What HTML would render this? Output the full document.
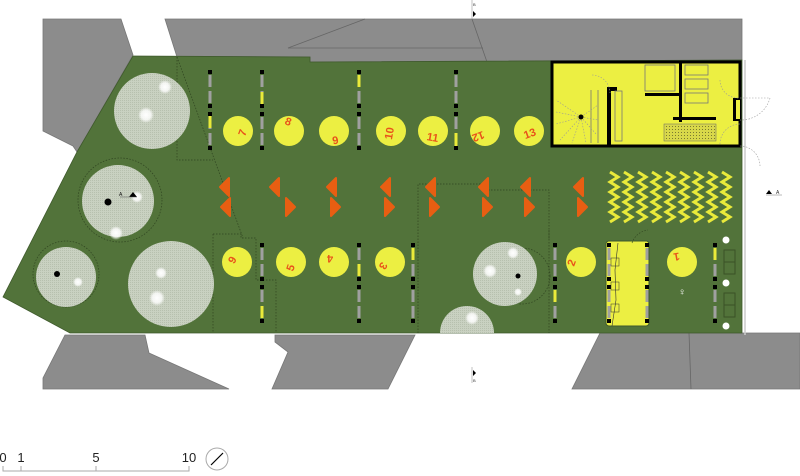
<!DOCTYPE html>
<html><head><meta charset="utf-8"><style>
html,body{margin:0;padding:0;background:#fff;}
svg{display:block;}
text{font-family:"Liberation Sans",sans-serif;}
</style></head><body>
<svg width="800" height="476" viewBox="0 0 800 476" xmlns="http://www.w3.org/2000/svg">
<defs>
<pattern id="dots" width="2" height="2" patternUnits="userSpaceOnUse"><rect width="2" height="2" fill="#c9d1c1"/><rect width="1" height="1" fill="#b7c0ae"/></pattern>
<radialGradient id="glow"><stop offset="0" stop-color="#fff"/><stop offset="0.6" stop-color="#fff" stop-opacity="0.8"/><stop offset="1" stop-color="#fff" stop-opacity="0"/></radialGradient>
<pattern id="hatch" width="3" height="3" patternUnits="userSpaceOnUse"><rect width="3" height="3" fill="#d8d84a"/><rect width="1" height="1" fill="#7a7a30"/></pattern>
<g id="col">
<rect x="0" y="0" width="4" height="4" fill="#000"/>
<rect x="0.5" y="5" width="3" height="12" fill="#a0a0a0"/>
<rect x="0.5" y="21" width="3" height="12" fill="#a0a0a0"/>
<rect x="0" y="34" width="4" height="4" fill="#000"/>
<rect x="0" y="42" width="4" height="4" fill="#000"/>
<rect x="0.5" y="47" width="3" height="12" fill="#a0a0a0"/>
<rect x="0.5" y="63" width="3" height="12" fill="#a0a0a0"/>
<rect x="0" y="76" width="4" height="4" fill="#000"/>
</g>
<g id="tl"><path d="M0,-9 L-9,0 L0,9 Z" fill="#e85e12" stroke="#e85e12" stroke-width="2" stroke-linejoin="round"/></g>
<g id="tr"><path d="M0,-9 L9,0 L0,9 Z" fill="#e85e12" stroke="#e85e12" stroke-width="2" stroke-linejoin="round"/></g>
</defs>

<!-- gray buildings -->
<g fill="#8c8c8c" stroke="#777" stroke-width="0.8">
<polygon points="43,19 121,19 133,55 77,152 73,146 43,131"/>
<polygon points="165,19 742,19 742,60 487,62 310,62 310,57 177,57"/>
<polygon points="65,335 145,335 149,353 229,389 43,389 43,378"/>
<polygon points="275,335 415,335 388,389 272,389 288,352 275,342"/>
<polygon points="600,333 800,333 800,389 572,389"/>
</g>
<line x1="288" y1="48" x2="365" y2="19" stroke="#666" stroke-width="0.8"/>
<line x1="288" y1="48" x2="483" y2="48" stroke="#666" stroke-width="0.8"/>
<line x1="472" y1="19" x2="487" y2="62" stroke="#666" stroke-width="0.8"/>
<line x1="689" y1="333" x2="691" y2="389" stroke="#666" stroke-width="0.8"/>

<!-- green ground -->
<polygon points="133,56 310,57 310,62 742,60 742,333 70,333 3,297 77,152" fill="#52733a" stroke="#3f5a2c" stroke-width="0.8"/>
<line x1="745" y1="60" x2="745" y2="335" stroke="#ccc" stroke-width="1.5"/>

<!-- dotted lines -->
<g fill="none" stroke="#2f4420" stroke-width="0.7" stroke-dasharray="1.5,1.5">
<polyline points="177,57 177,160 213,160"/>
<line x1="177" y1="57" x2="243" y2="238"/>
<polyline points="213,234 241,234 241,238 256,238 256,280 276,280 276,333"/>
<line x1="213" y1="234" x2="213" y2="333"/>
<polyline points="418,333 418,184 487,184 487,190 549,190 549,240"/>
<line x1="549" y1="230" x2="549" y2="333"/>
<circle cx="120" cy="200" r="42"/>
<circle cx="66" cy="274" r="33"/>
<circle cx="522" cy="276" r="28"/>
</g>

<!-- trees -->
<g fill="url(#dots)">
<circle cx="152" cy="111" r="38"/>
<circle cx="118" cy="201" r="36"/>
<circle cx="66" cy="277" r="30"/>
<circle cx="171" cy="284" r="43"/>
<circle cx="505" cy="274" r="32"/>
<path d="M440,333 A27,27 0 1 1 494,333 Z"/>
</g>
<g fill="url(#glow)">
<circle cx="165" cy="87" r="7"/><circle cx="146" cy="115" r="8"/>
<circle cx="137" cy="197" r="6"/><circle cx="116" cy="233" r="7"/>
<circle cx="78" cy="282" r="5"/>
<circle cx="161" cy="273" r="6"/><circle cx="157" cy="298" r="8"/>
<circle cx="513" cy="253" r="6"/><circle cx="490" cy="271" r="7"/><circle cx="518" cy="292" r="4"/>
<circle cx="472" cy="318" r="7"/>
</g>
<g fill="#000"><circle cx="108" cy="202" r="3.5"/><circle cx="57" cy="274" r="3"/><circle cx="518" cy="276" r="2.5"/></g>
<text x="119" y="196" font-size="5" fill="#111">A</text>
<polygon points="129,197 133,192 137,197" fill="#000"/>
<line x1="120" y1="197" x2="137" y2="197" stroke="#555" stroke-width="0.5"/>

<!-- columns -->
<use href="#col" x="208" y="70"/><use href="#col" x="260" y="70"/><use href="#col" x="357" y="70"/><use href="#col" x="454" y="70"/>
<use href="#col" x="260" y="243"/><use href="#col" x="357" y="243"/><use href="#col" x="411" y="243"/><use href="#col" x="553" y="243"/><use href="#col" x="713" y="243"/>
<g fill="#eaea3a">
<rect x="208.5" y="116" width="3" height="12"/><rect x="260.5" y="92" width="3" height="12"/><rect x="357.5" y="75" width="3" height="12"/><rect x="454.5" y="133" width="3" height="13"/>
<rect x="260.5" y="306" width="3" height="12"/><rect x="357.5" y="264" width="3" height="12"/><rect x="411.5" y="248" width="3" height="12"/><rect x="553.5" y="290" width="3" height="12"/><rect x="713.5" y="248" width="3" height="12"/>
</g>

<!-- yellow circles -->
<g fill="#ecef42">
<circle cx="238" cy="131" r="15"/><circle cx="289" cy="131" r="15"/><circle cx="334" cy="131" r="15"/><circle cx="391" cy="131" r="15"/><circle cx="433" cy="131" r="15"/><circle cx="485" cy="131" r="15"/><circle cx="529" cy="131" r="15"/>
<circle cx="237" cy="262" r="15"/><circle cx="291" cy="262" r="15"/><circle cx="334" cy="262" r="15"/><circle cx="390" cy="262" r="15"/><circle cx="581" cy="262" r="15"/><circle cx="682" cy="262" r="15"/>
</g>
<g fill="#e8531a" font-size="11" font-weight="bold" text-anchor="middle">
<text transform="translate(246,134) rotate(-70)">7</text>
<text transform="translate(287,125) rotate(20)">8</text>
<text transform="translate(336,144) rotate(-10)">9</text>
<text transform="translate(393,134) rotate(-80)">10</text>
<text transform="translate(432,141) rotate(10)">11</text>
<text transform="translate(477,133) rotate(160)">12</text>
<text transform="translate(531,137) rotate(-20)">13</text>
<text transform="translate(229,258) rotate(120)">6</text>
<text transform="translate(294,269) rotate(-70)">5</text>
<text transform="translate(330,255) rotate(180)">4</text>
<text transform="translate(380,264) rotate(120)">3</text>
<text transform="translate(575,264) rotate(-70)">2</text>
<text transform="translate(676,253) rotate(170)">1</text>
</g>

<!-- triangles -->
<use href="#tl" x="229" y="187"/><use href="#tl" x="279" y="187"/><use href="#tl" x="336" y="187"/><use href="#tl" x="390" y="187"/><use href="#tl" x="435" y="187"/><use href="#tl" x="488" y="187"/><use href="#tl" x="530" y="187"/><use href="#tl" x="583" y="187"/>
<use href="#tl" x="230" y="207"/><use href="#tr" x="286" y="207"/><use href="#tr" x="331" y="207"/><use href="#tr" x="385" y="207"/><use href="#tr" x="430" y="207"/><use href="#tr" x="483" y="207"/><use href="#tr" x="525" y="207"/><use href="#tr" x="578" y="207"/>

<!-- zigzags -->
<g fill="none" stroke="#eaea3a" stroke-width="3">
<path d="M610,172 l0,0 l8,5 l-8,5 l8,5 l-8,5 l8,5 l-8,5 l8,5 l-8,5 l8,5 l-8,5" />
<path d="M624,172 l8,5 l-8,5 l8,5 l-8,5 l8,5 l-8,5 l8,5 l-8,5 l8,5 l-8,5" />
<path d="M638,172 l8,5 l-8,5 l8,5 l-8,5 l8,5 l-8,5 l8,5 l-8,5 l8,5 l-8,5" />
<path d="M652,172 l8,5 l-8,5 l8,5 l-8,5 l8,5 l-8,5 l8,5 l-8,5 l8,5 l-8,5" />
<path d="M666,172 l8,5 l-8,5 l8,5 l-8,5 l8,5 l-8,5 l8,5 l-8,5 l8,5 l-8,5" />
<path d="M680,172 l8,5 l-8,5 l8,5 l-8,5 l8,5 l-8,5 l8,5 l-8,5 l8,5 l-8,5" />
<path d="M694,172 l8,5 l-8,5 l8,5 l-8,5 l8,5 l-8,5 l8,5 l-8,5 l8,5 l-8,5" />
<path d="M708,172 l8,5 l-8,5 l8,5 l-8,5 l8,5 l-8,5 l8,5 l-8,5 l8,5 l-8,5" />
<path d="M722,172 l8,5 l-8,5 l8,5 l-8,5 l8,5 l-8,5 l8,5 l-8,5 l8,5 l-8,5" />
</g>

<!-- table -->
<rect x="606" y="241" width="43" height="85" rx="3" fill="#ecef42" stroke="#3f5a2c" stroke-width="1"/>
<use href="#col" x="607" y="243"/><use href="#col" x="645" y="243"/>
<polyline points="618,243 615,270 616,300 612,326" fill="none" stroke="#333" stroke-width="0.6"/>
<g fill="none" stroke="#333" stroke-width="0.5"><rect x="611" y="258" width="8" height="8"/><rect x="611" y="282" width="8" height="8"/><rect x="611" y="304" width="8" height="8"/></g>
<path d="M632,243 Q636,232 648,230" fill="none" stroke="#2f4420" stroke-width="0.6" stroke-dasharray="1.5,1.5"/>

<!-- right side bits -->
<g fill="#fff"><circle cx="726" cy="240" r="3.5"/><circle cx="726" cy="283" r="3.5"/><circle cx="726" cy="326" r="3.5"/></g>
<g fill="none" stroke="#3a5226" stroke-width="1"><rect x="724" y="250" width="11" height="12"/><rect x="724" y="262" width="11" height="12"/><rect x="724" y="293" width="11" height="12"/><rect x="724" y="305" width="11" height="12"/></g>
<text x="682" y="295" font-size="10" fill="#fff" text-anchor="middle">&#9792;</text>

<!-- yellow building -->
<rect x="552" y="62" width="188" height="84" fill="#ecef42" stroke="#000" stroke-width="3"/>
<g fill="#000">
<rect x="607" y="87" width="4" height="59"/><rect x="607" y="87" width="10" height="4"/>
<rect x="645" y="93" width="35" height="3"/>
<rect x="679" y="62" width="3" height="60"/><rect x="673" y="117" width="43" height="3"/>
<rect x="733" y="98" width="7" height="3"/><rect x="733" y="98" width="3" height="22"/><rect x="733" y="118" width="7" height="3"/>
</g>
<rect x="736" y="100" width="4" height="19" fill="#ecef42"/>
<rect x="664" y="124" width="52" height="17" fill="url(#hatch)" stroke="#666" stroke-width="0.5"/>
<g fill="none" stroke="#777" stroke-width="0.8">
<rect x="645" y="65" width="30" height="26"/>
<rect x="685" y="65" width="23" height="10"/><rect x="685" y="79" width="23" height="10"/><rect x="685" y="93" width="23" height="10"/>
<line x1="591" y1="90" x2="591" y2="143"/><line x1="598" y1="90" x2="598" y2="143"/>
<rect x="615" y="91" width="7" height="50"/>
</g>
<g fill="none" stroke="#999" stroke-width="0.6" stroke-dasharray="1.5,1.5">
<path d="M581,117 L556,100 M581,117 L556,112 M581,117 L556,124 M581,117 L560,140 M581,117 L572,143 M581,117 L586,143 M581,117 L596,134 M581,117 L598,120 M581,117 L598,105"/>
<path d="M592,75 A18,18 0 0 1 610,93"/>
<path d="M720,80 A18,18 0 0 0 739,98"/>
<path d="M740,98 L770,98 A30,30 0 0 1 740,120"/>
<path d="M740,124 A20,20 0 0 0 720,145"/>
<path d="M740,146 A20,20 0 0 1 760,166"/>
</g>
<circle cx="581" cy="117" r="2.5" fill="#000"/>

<!-- section markers -->
<line x1="472" y1="0" x2="472" y2="19" stroke="#999" stroke-width="0.6"/>
<text x="473" y="6" font-size="4" fill="#333">B</text>
<polygon points="473,11 476,14 473,17" fill="#000"/>
<line x1="472" y1="367" x2="472" y2="383" stroke="#999" stroke-width="0.6"/>
<polygon points="473,370 476,373 473,376" fill="#000"/>
<text x="473" y="382" font-size="4" fill="#333">B</text>
<polygon points="766,194 769,190 772,194" fill="#000"/>
<line x1="766" y1="195" x2="782" y2="195" stroke="#777" stroke-width="0.5"/>
<text x="776" y="194" font-size="5" fill="#333">A</text>

<!-- scale bar -->
<g font-size="13" fill="#222" text-anchor="middle">
<text x="3" y="462">0</text><text x="21" y="462">1</text><text x="96" y="462">5</text><text x="189" y="462">10</text>
</g>
<g stroke="#aaa" stroke-width="1" fill="none">
<polyline points="3,466 3,471 189,471 189,466"/><line x1="21" y1="466" x2="21" y2="471"/><line x1="96" y1="466" x2="96" y2="471"/>
<circle cx="217" cy="459" r="11"/>
</g>
<line x1="211" y1="465" x2="223" y2="453" stroke="#000" stroke-width="1.2"/>
</svg>
</body></html>
